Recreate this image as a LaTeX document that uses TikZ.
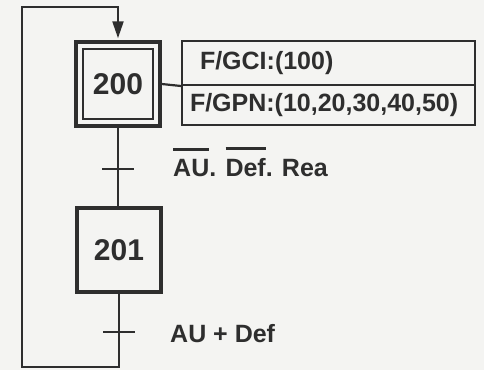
\documentclass[tikz,border=0pt]{standalone}
\usepackage{fontspec}
\setmainfont{Liberation Sans}
\usetikzlibrary{arrows.meta}
\definecolor{ink}{HTML}{2E2E2E}
\definecolor{paper}{HTML}{F4F4F2}
\newcommand\ovl[1]{\setbox0\hbox{#1}\rlap{\raisebox{\dimexpr\ht0+8pt\relax}{\rule{\wd0}{2.4pt}}}\box0}
\begin{document}
\begin{tikzpicture}[x=1pt,y=-1pt,
  every node/.style={text=ink},
  stepbox/.style={draw=ink, line width=3.5pt, minimum width=84pt, minimum height=84pt, inner sep=0pt, font=\fontsize{30}{32}\selectfont\bfseries},
  actbox/.style={draw=ink, line width=2pt, anchor=north west, minimum width=293pt, inner ysep=0pt, align=left, font=\fontsize{25}{28}\selectfont\bfseries},
  lnk/.style={draw=ink, line width=2.2pt},
  tick/.style={draw=ink, line width=2.5pt},
  lbl/.style={inner sep=0pt, anchor=base west, font=\fontsize{25}{28}\selectfont\bfseries}
]
\fill[paper] (0,0) rectangle (484,370);
\useasboundingbox (0,0) rectangle (484,370);

\node[stepbox] (s200) at (118,84) {200};
\draw[ink, line width=1.8pt] ([shift={(9pt,-9pt)}]s200.north west) rectangle ([shift={(-9pt,9pt)}]s200.south east);
\node[stepbox] (s201) at (119,250) {201};

\node[actbox, minimum height=44pt, inner xsep=18pt, text width=257pt] (act1) at (181,40) {F/GCI:(100)};
\node[actbox, minimum height=40pt, inner xsep=8pt, text width=277pt] (act2) at (181,84) {F/GPN:(10,20,30,40,50)};
\draw[lnk] (s200.east) -- (act1.south west);

\coordinate (t1) at (118,169);
\coordinate (t2) at (119,332);
\coordinate (bot) at (119,367);
\coordinate (bl) at (22,367);
\coordinate (tl) at (22,7);
\coordinate (top) at (118,7);

\draw[lnk] (s200.south) -- (s200.south |- s201.north);
\draw[tick] ([xshift=-16pt]t1) -- ([xshift=16pt]t1);
\node[lbl] (c1) at (173,176) {\ovl{AU}. \ovl{Def}. Rea};

\draw[lnk, -{Triangle[length=17pt,width=11pt]}] (s201.south) -- (bot) -- (bl) -- (tl) -- (top) -- ([yshift=2pt]s200.north);
\draw[tick] ([xshift=-16pt]t2) -- ([xshift=16pt]t2);
\node[lbl] (c2) at (170,342) {AU + Def};
\end{tikzpicture}
\end{document}
